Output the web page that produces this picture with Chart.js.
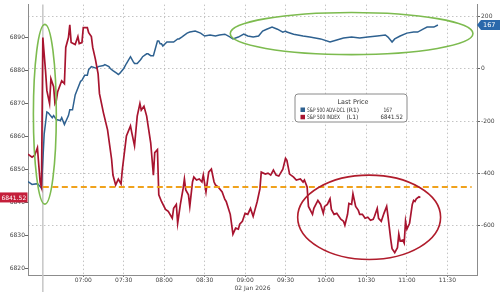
<!DOCTYPE html>
<html>
<head>
<meta charset="utf-8">
<script src="https://cdn.jsdelivr.net/npm/chart.js@4.4.1/dist/chart.umd.min.js"></script>
<style>
html, body { margin: 0; padding: 0; background: #fff; }
#wrap { width: 500px; height: 292px; }
</style>
</head>
<body>
<div id="wrap"><canvas id="chart" width="500" height="292"></canvas></div>
<script>
// S&P 500 index (left axis)
const spxTimes = [
  '06:19','06:22','06:24','06:26','06:27','06:28','06:29','06:30','06:31','06:32',
  '06:33','06:35','06:36','06:38','06:39','06:40','06:41','06:44','06:46','06:47',
  '06:49','06:50','06:51','06:54','06:56','06:57','06:59','07:00','07:03','07:04',
  '07:06','07:07','07:09','07:11','07:12','07:15','07:18','07:21','07:22','07:24',
  '07:26','07:28','07:29','07:32','07:35','07:36','07:38','07:40','07:42','07:43',
  '07:45','07:47','07:50','07:52','07:53','07:55','07:56','07:58','08:01','08:03',
  '08:06','08:07','08:09','08:10','08:12','08:14','08:15','08:16','08:18','08:19',
  '08:21','08:22','08:24','08:26','08:28','08:29','08:31','08:33','08:35','08:37',
  '08:38','08:40','08:43','08:45','08:46','08:49','08:51','08:53','08:55','08:56',
  '08:58','09:00','09:02','09:04','09:06','09:07','09:09','09:11','09:12','09:15',
  '09:17','09:19','09:21','09:23','09:25','09:28','09:30','09:31','09:33','09:36',
  '09:38','09:41','09:43','09:44','09:46','09:47','09:50','09:51','09:54','09:56',
  '09:58','09:59','10:01','10:03','10:04','10:06','10:08','10:11','10:13','10:14',
  '10:16','10:17','10:19','10:20','10:22','10:24','10:25','10:27','10:29','10:31',
  '10:33','10:35','10:36','10:38','10:39','10:41','10:43','10:45','10:46','10:48',
  '10:49','10:51','10:53','10:54','10:55','10:57','10:58','10:59','11:00','11:02',
  '11:04','11:05','11:06','11:07','11:09','11:10'
];
const spxValues = [
  6854.6, 6853.7, 6854.3, 6856.6, 6851.3, 6846.2, 6844.7, 6890.0, 6884.9, 6879.9,
  6873.9, 6870.0, 6877.5, 6875.1, 6870.0, 6870.9, 6873.6, 6876.9, 6876.0, 6887.0,
  6890.0, 6893.9, 6888.5, 6887.9, 6890.3, 6888.2, 6888.5, 6893.0, 6893.0, 6891.5,
  6890.3, 6887.0, 6883.4, 6879.0, 6873.0, 6867.1, 6862.0, 6853.1, 6848.3, 6845.3,
  6847.1, 6845.6, 6850.1, 6860.2, 6863.2, 6861.1, 6857.2, 6866.2, 6870.0, 6868.0,
  6869.2, 6866.2, 6858.1, 6848.3, 6855.1, 6856.0, 6842.3, 6840.3, 6837.9, 6837.3,
  6835.2, 6838.2, 6839.4, 6833.7, 6839.4, 6844.1, 6847.1, 6843.8, 6842.3, 6838.8,
  6846.2, 6847.7, 6846.8, 6847.1, 6846.2, 6848.3, 6843.2, 6849.2, 6850.1, 6846.2,
  6845.3, 6844.7, 6843.2, 6840.9, 6840.3, 6836.4, 6830.4, 6832.2, 6831.9, 6833.4,
  6834.3, 6836.7, 6836.4, 6838.2, 6835.8, 6837.3, 6840.3, 6844.1, 6849.2, 6848.6,
  6848.9, 6848.3, 6849.8, 6848.3, 6848.0, 6850.1, 6853.4, 6852.8, 6848.6, 6847.7,
  6846.8, 6847.1, 6846.2, 6846.8, 6844.7, 6838.8, 6836.4, 6838.2, 6840.6, 6839.4,
  6836.7, 6838.8, 6839.4, 6841.1, 6837.9, 6836.4, 6836.7, 6834.9, 6834.3, 6833.1,
  6836.4, 6839.7, 6839.4, 6842.6, 6838.8, 6837.6, 6836.4, 6836.4, 6835.2, 6835.5,
  6834.6, 6834.9, 6835.8, 6838.2, 6835.2, 6834.3, 6836.7, 6838.8, 6835.8, 6828.9,
  6826.0, 6824.8, 6826.3, 6830.4, 6828.3, 6828.6, 6827.7, 6834.3, 6831.9, 6833.7,
  6839.4, 6840.6, 6840.3, 6841.1, 6841.7, 6841.52
];

// S&P 500 advance-decline (right axis)
const advTimes = [
  '06:19','06:22','06:26','06:28','06:29','06:31','06:33','06:34','06:37','06:38',
  '06:40','06:43','06:44','06:46','06:49','06:50','06:52','06:54','06:58','06:59',
  '07:01','07:03','07:04','07:06','07:10','07:11','07:15','07:16','07:19','07:20',
  '07:22','07:25','07:26','07:27','07:30','07:32','07:35','07:37','07:38','07:40',
  '07:42','07:43','07:44','07:47','07:48','07:50','07:52','07:55','07:56','07:57',
  '07:58','07:59','08:02','08:03','08:06','08:07','08:10','08:11','08:13','08:17',
  '08:19','08:23','08:27','08:30','08:34','08:38','08:41','08:45','08:49','08:51',
  '08:55','08:59','09:02','09:06','09:10','09:13','09:16','09:20','09:24','09:28',
  '09:30','09:31','09:36','09:43','09:48','09:56','10:03','10:08','10:13','10:19',
  '10:25','10:31','10:38','10:44','10:46','10:49','10:51','10:55','11:00','11:05',
  '11:08','11:12','11:15','11:20','11:23'
];
const advValues = [
  -431, -442, -439, -450, -457, -250, -165, -168, -187, -179,
  -194, -198, -187, -213, -179, -157, -157, -100, -48, -44,
  -25, -25, -3, 8, 1, 8, 12, 16, 8, 1,
  -7, -18, -22, -18, 1, 20, 46, 27, 20, 20,
  31, 38, 46, 57, 57, 50, 50, 106, 106, 95,
  95, 87, 102, 102, 102, 102, 114, 114, 121, 136,
  140, 144, 136, 125, 129, 125, 129, 132, 121, 114,
  121, 132, 125, 121, 125, 144, 151, 159, 151, 140,
  144, 140, 132, 125, 121, 114, 102, 110, 117, 121,
  117, 121, 125, 129, 121, 102, 114, 125, 136, 140,
  140, 151, 159, 159, 167
];

const timeLabels = ['07:00','07:30','08:00','08:30','09:00','09:30','10:00','10:30','11:00','11:30'];
const leftTicks = [6820, 6830, 6840, 6850, 6860, 6870, 6880, 6890];
const rightTicks = [-600, -400, -200, 0, 200];
const sessionOpen = '06:30';
const refLevel = 6844.7;
const refSpan = ['06:30', '11:48'];
const dateLabel = '02 Jan 2026';
const legendTitle = 'Last Price';
const seriesNames = ['S&P 500 ADV-DCL', 'S&P 500 INDEX'];
const seriesAxes = ['(R1)', '(L1)'];

// highlighted regions: [fromTime, toTime, lowValue, highValue, axis, colour]
const highlights = [
  ['06:23', '06:40', 6839.5, 6894, 'y', '#7dbb4f'],
  ['08:49', '11:49', 54, 215, 'y1', '#7dbb4f'],
  ['09:39', '11:25', 6822.7, 6848.3, 'y', '#b01c2c']
];

const toMin = s => { const [h, m] = s.split(':').map(Number); return h * 60 + m; };
const fmtMin = v => String(Math.floor(v / 60)).padStart(2, '0') + ':' + String(v % 60).padStart(2, '0');

const RED = '#a8142f';
const BLUE = '#2e6190';
const FONT = 'DejaVu Sans';

Chart.defaults.font.family = FONT;
Chart.defaults.font.size = 6;
Chart.defaults.color = '#444';

const lastSpx = spxValues[spxValues.length - 1];
const lastAdv = advValues[advValues.length - 1];

const extras = {
  id: 'extras',
  beforeDatasetsDraw(chart) {
    const {ctx, chartArea, scales: {x}} = chart;
    const px = x.getPixelForValue(toMin(sessionOpen));
    ctx.save();
    ctx.strokeStyle = '#c6c6c6';
    ctx.lineWidth = 1.5;
    ctx.beginPath();
    ctx.moveTo(px, chartArea.top);
    ctx.lineTo(px, chart.height);
    ctx.stroke();
    ctx.restore();
  },
  afterDatasetsDraw(chart) {
    const {ctx, scales} = chart;
    ctx.save();
    highlights.forEach(([t0, t1, lo, hi, axis, col]) => {
      const x0 = scales.x.getPixelForValue(toMin(t0));
      const x1 = scales.x.getPixelForValue(toMin(t1));
      const y0 = scales[axis].getPixelForValue(hi);
      const y1 = scales[axis].getPixelForValue(lo);
      ctx.strokeStyle = col;
      ctx.lineWidth = 1.6;
      ctx.beginPath();
      ctx.ellipse((x0 + x1) / 2, (y0 + y1) / 2, (x1 - x0) / 2, (y1 - y0) / 2, 0, 0, Math.PI * 2);
      ctx.stroke();
    });
    ctx.restore();
  },
  afterDraw(chart) {
    const {ctx, scales} = chart;
    ctx.save();

    // legend box
    const bx = 295, by = 94, bw = 112, bh = 28, r = 3;
    ctx.beginPath();
    ctx.moveTo(bx + r, by);
    ctx.lineTo(bx + bw - r, by);
    ctx.quadraticCurveTo(bx + bw, by, bx + bw, by + r);
    ctx.lineTo(bx + bw, by + bh - r);
    ctx.quadraticCurveTo(bx + bw, by + bh, bx + bw - r, by + bh);
    ctx.lineTo(bx + r, by + bh);
    ctx.quadraticCurveTo(bx, by + bh, bx, by + bh - r);
    ctx.lineTo(bx, by + r);
    ctx.quadraticCurveTo(bx, by, bx + r, by);
    ctx.fillStyle = '#fff';
    ctx.fill();
    ctx.strokeStyle = '#8a8a8a';
    ctx.lineWidth = 1;
    ctx.stroke();

    ctx.fillStyle = '#333';
    ctx.font = '6.5px "' + FONT + '"';
    ctx.textBaseline = 'middle';
    ctx.textAlign = 'center';
    ctx.fillText(legendTitle, 353, 102.5, 31);
    ctx.textAlign = 'left';
    ctx.font = '6px "' + FONT + '"';
    const rows = [[BLUE, lastAdv, 38, 383.5, 8.5], [RED, lastSpx, 33, 380.5, 22.5]];
    rows.forEach(([col, val, nameW, valX, valW], i) => {
      const ry = 110 + i * 7.3;
      ctx.fillStyle = col;
      ctx.fillRect(300.5, ry - 2.5, 4.5, 4.5);
      ctx.fillStyle = '#333';
      ctx.fillText(seriesNames[i], 307, ry, nameW);
      ctx.fillText(seriesAxes[i], 346.5, ry, 14);
      ctx.fillText(String(val), valX, ry, valW);
    });

    // last value tags
    const ry = scales.y1.getPixelForValue(lastAdv);
    ctx.fillStyle = '#2a68ab';
    ctx.beginPath();
    ctx.moveTo(477, ry);
    ctx.lineTo(481, ry - 5);
    ctx.lineTo(500, ry - 5);
    ctx.lineTo(500, ry + 5);
    ctx.lineTo(481, ry + 5);
    ctx.closePath();
    ctx.fill();
    ctx.fillStyle = '#fff';
    ctx.font = '6.5px "' + FONT + '"';
    ctx.fillText(String(lastAdv), 483, ry + 0.5);

    const ly = scales.y.getPixelForValue(lastSpx);
    ctx.fillStyle = '#c41e3a';
    ctx.fillRect(0, ly - 5, 27.5, 10);
    ctx.fillStyle = '#fff';
    ctx.textAlign = 'center';
    ctx.font = '6px "' + FONT + '"';
    ctx.fillText(lastSpx.toFixed(2), 13.8, ly + 0.5, 25.5);
    ctx.restore();
  }
};

new Chart(document.getElementById('chart'), {
  type: 'line',
  data: {
    datasets: [
      {
        label: 'ref',
        data: refSpan.map(t => ({x: toMin(t), y: refLevel})),
        yAxisID: 'y',
        borderColor: '#f0a21c',
        borderWidth: 2,
        borderDash: [6, 3.5],
        pointRadius: 0,
        order: 0
      },
      {
        label: seriesNames[1],
        data: spxTimes.map((t, i) => ({x: toMin(t), y: spxValues[i]})),
        yAxisID: 'y',
        borderColor: RED,
        borderWidth: 1.7,
        pointRadius: 0,
        tension: 0,
        order: 1
      },
      {
        label: seriesNames[0],
        data: advTimes.map((t, i) => ({x: toMin(t), y: advValues[i]})),
        yAxisID: 'y1',
        borderColor: BLUE,
        borderWidth: 1.5,
        pointRadius: 0,
        tension: 0,
        order: 2
      }
    ]
  },
  options: {
    responsive: false,
    animation: false,
    layout: { padding: 0 },
    plugins: { legend: { display: false }, tooltip: { enabled: false } },
    scales: {
      x: {
        type: 'linear',
        min: toMin('06:19'),
        max: toMin('11:52'),
        afterFit: s => { s.height = 17; },
        afterBuildTicks: s => { s.ticks = timeLabels.map(t => ({value: toMin(t)})); },
        ticks: { callback: v => fmtMin(v), padding: 0, maxRotation: 0, font: { size: 6, lineHeight: 1.1 } },
        grid: { color: '#c4c4c4', tickColor: '#777', tickLength: 2, lineWidth: 1 },
        border: { display: true, color: '#8c8c8c', dash: [1.5, 2.5] },
        title: { display: true, text: dateLabel, padding: { top: 0, bottom: 0 }, font: { size: 6, lineHeight: 1.1 } }
      },
      y: {
        position: 'left',
        min: 6818,
        max: 6900,
        afterFit: s => { s.width = 28; },
        afterBuildTicks: s => { s.ticks = leftTicks.map(v => ({value: v})); },
        ticks: { callback: v => String(v), padding: 0 },
        grid: { drawOnChartArea: false, tickColor: '#666', tickLength: 3 },
        border: { display: true, color: '#8c8c8c' }
      },
      y1: {
        position: 'right',
        min: -788,
        max: 245,
        afterFit: s => { s.width = 23; },
        afterBuildTicks: s => { s.ticks = rightTicks.map(v => ({value: v})); },
        ticks: { callback: v => String(v), padding: 1 },
        grid: { color: '#c4c4c4', tickColor: '#666', tickLength: 3 },
        border: { display: true, color: '#8c8c8c', dash: [1.5, 2.5] }
      }
    }
  },
  plugins: [extras]
});
</script>
</body>
</html>
